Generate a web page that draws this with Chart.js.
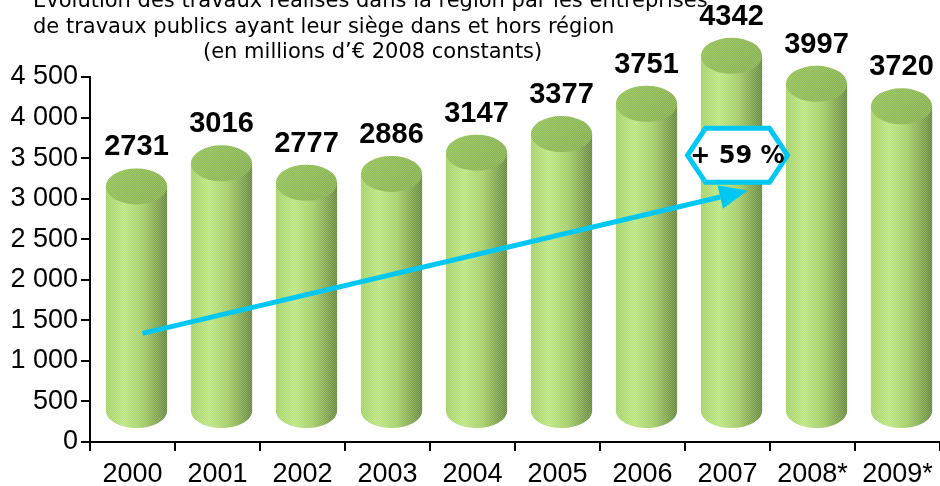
<!DOCTYPE html>
<html>
<head>
<meta charset="utf-8">
<script src="https://cdn.jsdelivr.net/npm/chart.js@4"></script>
<style>
  html, body { margin: 0; padding: 0; background: #fff; }
</style>
</head>
<body>
<canvas id="chart" width="940" height="486"></canvas>
<script>
const years = ["2000", "2001", "2002", "2003", "2004", "2005", "2006", "2007", "2008*", "2009*"];
const amounts = [2731, 3016, 2777, 2886, 3147, 3377, 3751, 4342, 3997, 3720];
const yTicks = [0, 500, 1000, 1500, 2000, 2500, 3000, 3500, 4000, 4500];
const titleLines = [
    "Évolution des travaux réalisés dans la région par les entreprises",
    "de travaux publics ayant leur siège dans et hors région",
    "(en millions d’€ 2008 constants)"
];
const growthText = "+ 59 %";
// arrow and badge anchored on category index + value
const arrowStart = [0, 1340];
const arrowEnd = [7, 3100];
const badgeAt = [7, 3535];

const DEPTH_UP = 32;   // 3D shift of the cylinders
const SHIFT_X = 4;

function makeDither() {
    const c = document.createElement("canvas");
    c.width = 2; c.height = 2;
    const g = c.getContext("2d");
    g.fillStyle = "rgba(255,255,255,0.2)";
    g.fillRect(0, 0, 1, 1);
    g.fillRect(1, 1, 1, 1);
    return c;
}

const cylinders = {
    id: "cylinders",
    afterDatasetsDraw(chart) {
        const ctx = chart.ctx;
        const meta = chart.getDatasetMeta(0);
        const dither = ctx.createPattern(makeDither(), "repeat");
        meta.data.forEach((bar, i) => {
            const p = bar.getProps(["x", "y", "base", "width"], true);
            const cx = p.x + SHIFT_X;
            const rx = p.width / 2;
            const ry = 18;
            const top = p.y - DEPTH_UP - 2;
            const bottom = p.base - DEPTH_UP + 2;

            ctx.save();
            // body
            ctx.beginPath();
            ctx.moveTo(cx - rx, top);
            ctx.lineTo(cx - rx, bottom);
            ctx.ellipse(cx, bottom, rx, ry - 1, 0, Math.PI, 0, true);
            ctx.lineTo(cx + rx, top);
            ctx.closePath();
            const g = ctx.createLinearGradient(cx - rx, 0, cx + rx, 0);
            g.addColorStop(0, "#a3d163");
            g.addColorStop(0.3, "#bbe67e");
            g.addColorStop(0.6, "#a2cd64");
            g.addColorStop(0.82, "#80a64b");
            g.addColorStop(1, "#63853a");
            ctx.fillStyle = g;
            ctx.fill();
            ctx.fillStyle = dither;
            ctx.fill();

            // top
            ctx.beginPath();
            ctx.ellipse(cx, top, rx, ry, 0, 0, Math.PI * 2);
            const t = ctx.createLinearGradient(cx - rx, top - ry, cx + rx, top + ry);
            t.addColorStop(0, "#92c152");
            t.addColorStop(1, "#82ad4b");
            ctx.fillStyle = t;
            ctx.fill();
            ctx.fillStyle = dither;
            ctx.fill();
            ctx.restore();

            // value label
            ctx.save();
            ctx.fillStyle = "#000";
            ctx.font = "bold 29px 'Liberation Sans', Arial, sans-serif";
            ctx.textAlign = "center";
            ctx.textBaseline = "middle";
            ctx.fillText(String(amounts[i]), cx, p.y - 73);
            ctx.restore();
        });
    }
};

const annotations = {
    id: "annotations",
    afterDatasetsDraw(chart) {
        const ctx = chart.ctx;
        const xs = chart.scales.x, ys = chart.scales.y;
        const x0 = xs.getPixelForValue(arrowStart[0]) + 10;
        const y0 = ys.getPixelForValue(arrowStart[1]);
        const x1 = xs.getPixelForValue(arrowEnd[0]) + 20;
        const y1 = ys.getPixelForValue(arrowEnd[1]);
        const ang = Math.atan2(y1 - y0, x1 - x0);
        const head = 28, half = 12;

        ctx.save();
        ctx.strokeStyle = "#00c8f2";
        ctx.fillStyle = "#00c8f2";
        ctx.lineWidth = 5;
        ctx.beginPath();
        ctx.moveTo(x0, y0);
        ctx.lineTo(x1 - head * Math.cos(ang), y1 - head * Math.sin(ang));
        ctx.stroke();
        ctx.beginPath();
        ctx.moveTo(x1, y1);
        ctx.lineTo(x1 - head * Math.cos(ang) - half * Math.sin(ang), y1 - head * Math.sin(ang) + half * Math.cos(ang));
        ctx.lineTo(x1 - head * Math.cos(ang) + half * Math.sin(ang), y1 - head * Math.sin(ang) - half * Math.cos(ang));
        ctx.closePath();
        ctx.fill();

        // hexagon badge
        const bx = xs.getPixelForValue(badgeAt[0]) + 10;
        const by = ys.getPixelForValue(badgeAt[1]);
        const w = 50, h = 27, cut = 18;
        ctx.beginPath();
        ctx.moveTo(bx - w, by);
        ctx.lineTo(bx - w + cut, by - h);
        ctx.lineTo(bx + w - cut, by - h);
        ctx.lineTo(bx + w, by);
        ctx.lineTo(bx + w - cut, by + h);
        ctx.lineTo(bx - w + cut, by + h);
        ctx.closePath();
        ctx.fillStyle = "#fff";
        ctx.fill();
        ctx.lineWidth = 5;
        ctx.stroke();
        ctx.fillStyle = "#000";
        ctx.font = "bold 24px 'DejaVu Sans', sans-serif";
        ctx.textAlign = "center";
        ctx.textBaseline = "middle";
        ctx.fillText(growthText, bx, by + 1);
        ctx.restore();
    }
};

const titleText = {
    id: "titleText",
    afterDraw(chart) {
        const ctx = chart.ctx;
        ctx.save();
        ctx.fillStyle = "#000";
        ctx.font = "21px 'DejaVu Sans', Tahoma, sans-serif";
        ctx.textBaseline = "alphabetic";
        ctx.fillText(titleLines[0], 33, 7);
        ctx.fillText(titleLines[1], 33, 33);
        ctx.fillText(titleLines[2], 203, 58);
        ctx.restore();
    }
};

new Chart(document.getElementById("chart"), {
    type: "bar",
    data: {
        labels: years,
        datasets: [{
            data: amounts,
            backgroundColor: "rgba(0,0,0,0)",
            barPercentage: 0.72,
            categoryPercentage: 1.0
        }]
    },
    options: {
        responsive: false,
        animation: false,
        layout: { padding: { top: 77, right: 0, left: 0, bottom: 0 } },
        plugins: {
            legend: { display: false },
            tooltip: { enabled: false },
            title: { display: false }
        },
        scales: {
            x: {
                offset: true,
                grid: { display: true, drawOnChartArea: false, offset: true, tickLength: 9, color: "#000", lineWidth: 2 },
                border: { display: true, color: "#000", width: 2 },
                ticks: { color: "#000", font: { family: "'Liberation Sans', Arial, sans-serif", size: 27 }, padding: 7, maxRotation: 0, autoSkip: false },
                afterFit(scale) { scale.height = 44; }
            },
            y: {
                min: 0,
                max: 4500,
                afterBuildTicks(scale) { scale.ticks = yTicks.map(v => ({ value: v })); },
                grid: { display: true, drawOnChartArea: false, tickLength: 9, color: "#000", lineWidth: 2 },
                border: { display: true, color: "#000", width: 2 },
                ticks: {
                    color: "#000",
                    font: { family: "'Liberation Sans', Arial, sans-serif", size: 27 },
                    padding: 3,
                    callback: v => String(v).replace(/\B(?=(\d{3})+(?!\d))/g, " ")
                },
                afterFit(scale) { scale.width = 90; }
            }
        }
    },
    plugins: [cylinders, annotations, titleText]
});
</script>
</body>
</html>
